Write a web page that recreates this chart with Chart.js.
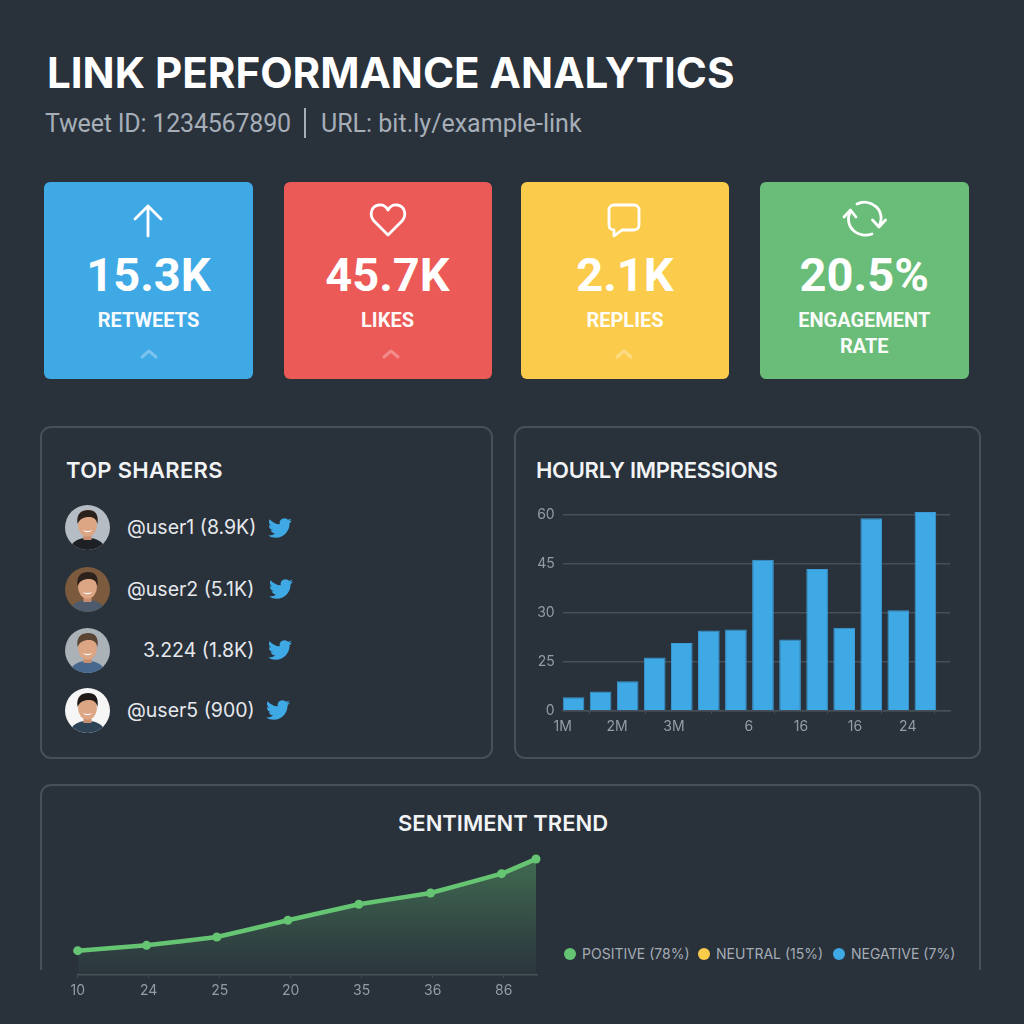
<!DOCTYPE html>
<html><head><meta charset="utf-8">
<script src="https://cdn.jsdelivr.net/npm/chart.js@4/dist/chart.umd.min.js"></script>
<style>
html,body{margin:0;padding:0;background:#29313b;width:1024px;height:1024px;overflow:hidden;font-family:Inter,Roboto,sans-serif;}
.a{position:absolute;white-space:nowrap;}
#title{left:47px;top:46px;font-size:42.100px;font-weight:700;color:#fff;line-height:54px;}
.sub{top:107px;font-family:Roboto,sans-serif;font-size:25px;color:#a6aeb8;line-height:34px;}
#sep{left:304px;top:108px;width:1.5px;height:30px;background:#a6aeb8;}
.card{position:absolute;top:181.5px;height:197px;border-radius:6px;}
.card svg{position:absolute;overflow:visible;}
.val{position:absolute;left:0;right:0;top:66px;text-align:center;color:#fff;font-family:Roboto,sans-serif;font-size:47px;font-weight:700;line-height:54px;}
.lab{position:absolute;left:0;right:0;top:125px;text-align:center;color:#fff;font-family:Roboto,sans-serif;font-size:20px;font-weight:700;line-height:26px;opacity:.96;}
.panel{position:absolute;border:2px solid #465059;border-radius:11px;box-sizing:border-box;}
.head{position:absolute;color:#f1f3f5;font-size:22px;font-weight:600;line-height:28px;white-space:nowrap;}
.name{position:absolute;color:#e6e9ec;font-size:19.500px;line-height:24px;white-space:nowrap;}
canvas{position:absolute;}
.leg{position:absolute;top:945px;font-size:14px;line-height:18px;color:#a5acb5;white-space:nowrap;}
.dot{position:absolute;width:12px;height:12px;border-radius:50%;top:948px;}
</style></head><body>
<div class="a" id="title">LINK PERFORMANCE ANALYTICS</div>
<div class="a sub" style="left:45px;letter-spacing:-.2px">Tweet ID: 1234567890</div>
<div class="a" id="sep"></div>
<div class="a sub" style="left:321px">URL: bit.ly/example-link</div>

<div class="panel" style="left:40px;top:426px;width:453px;height:333px"></div>
<div class="panel" style="left:514px;top:426px;width:467px;height:333px"></div>
<div class="panel" style="left:40px;top:784px;width:941px;height:186px;border-bottom:none;border-bottom-left-radius:0;border-bottom-right-radius:0"></div>
<div class="head" style="left:66px;top:456px;letter-spacing:.3px">TOP SHARERS</div>
<div class="head" style="left:536px;top:456px;letter-spacing:-.3px">HOURLY IMPRESSIONS</div>
<div class="head" style="left:398px;top:809px">SENTIMENT TREND</div>
<div id="cards"></div><div id="sharers"></div><div id="legend"></div>
<canvas id="bars" style="left:530px;top:492px;width:430px;height:248px" width="430" height="248"></canvas>
<canvas id="trend" style="left:60px;top:845px;width:500px;height:155px" width="500" height="155"></canvas>
<script>
const cardValues=['15.3K','45.7K','2.1K','20.5%'];
const cardLabels=['RETWEETS','LIKES','REPLIES','ENGAGEMENT<br>RATE'];
const sharerNames=['@user1 (8.9K)','@user2 (5.1K)','3.224 (1.8K)','@user5 (900)'];
const barHours=[0,1,2,3,4,5,6,7,8,9,10,11,12,13];
const barValues=[4.1,5.9,9.05,16.3,20.75,24.6,24.9,46.3,21.8,43.4,25.4,59,30.8,60.9];
const barTickAt=[-0.4,1.61,3.71,6.48,8.4,10.4,12.35];
const barTickLabels=['1M','2M','3M','6','16','16','24'];
const yTickLabels=['0','25','30','45','60'];
const trendX=[0,0.97,1.96,2.96,3.96,4.97,5.97,6.455];
const trendValues=[16.2,19.8,25.4,36.7,47.5,55.1,68.1,78];
const trendTickLabels=['10','24','25','20','35','36','86'];
const legendNames=['POSITIVE (78%)','NEUTRAL (15%)','NEGATIVE (7%)'];

const cardLeft=[44,283.5,521,759.5],cardWidth=[209,208,208,209.5],cardColor=['#3fa9e5','#ec5a57','#fbcc4c','#6abd79'];
const ic='fill="none" stroke="#fff" stroke-width="2.8" stroke-linecap="round" stroke-linejoin="round"';
const icons=[
 `<svg style="left:88px;top:22px" width="32" height="34"><path ${ic} d="M16 32V2M3 15L16 2L29 15"/></svg>`,
 `<svg style="left:86px;top:21px" width="36" height="34"><path ${ic} d="M18 32L4 18C-1 12 1 3 9 2C13 1.5 16 3.5 18 7C20 3.5 23 1.500 27 2C35 3 37 12 32 18Z"/></svg>`,
 `<svg style="left:86px;top:21px" width="36" height="36"><path ${ic} d="M7 2H27C30 2 32 4 32 7V22C32 25 30 27 27 27H15L7 33V27C4 27 2 25 2 22V7C2 4 4 2 7 2Z"/></svg>`,
 `<svg style="left:82px;top:20px" width="46" height="36"><path ${ic} d="M8.500 9C5 16 6 24 12 29C17 33 24 34 30 32M37 24C41 17 39 8 33 4C28 0 21 -1 15 2"/><path ${ic} d="M2 15L8.500 8L14 15M30.500 18L37 25L43.500 18"/></svg>`];
const chev=[[96,172],[98,172],[94,172],null];
document.getElementById('cards').innerHTML=cardValues.map((v,i)=>`<div class="card" style="left:${cardLeft[i]}px;width:${cardWidth[i]}px;background:${cardColor[i]}">
${icons[i]}<div class="val">${v}</div><div class="lab">${cardLabels[i]}</div>
${chev[i]?`<svg style="left:${chev[i][0]}px;top:${chev[i][1]-5}px" width="18" height="10"><path d="M2 8L9 2L16 8" fill="none" stroke="#fff" stroke-opacity=".3" stroke-width="3" stroke-linecap="round" stroke-linejoin="round"/></svg>`:''}</div>`).join('');

const avatarBg=['#b6bcc4','#7b5a3e','#aab1b7','#f6f6f6'],shirt=['#1d2126','#4d5b6c','#47688c','#2f4356'],hair=['#2a211c','#2c221c','#5a4434','#1f1a18'];
const rowY=[527.5,589,650,710],nameX=[127,127,143,127],birdX=[267.500,268.500,267.500,266];
const bird='M23.953 4.57a10 10 0 01-2.825.775 4.958 4.958 0 002.163-2.723c-.951.555-2.005.959-3.127 1.184a4.92 4.92 0 00-8.384 4.482C7.69 8.095 4.067 6.13 1.64 3.162a4.822 4.822 0 00-.666 2.475c0 1.71.87 3.213 2.188 4.096a4.904 4.904 0 01-2.228-.616v.06a4.923 4.923 0 003.946 4.827 4.996 4.996 0 01-2.212.085 4.936 4.936 0 004.604 3.417 9.867 9.867 0 01-6.102 2.105c-.39 0-.779-.023-1.17-.067a13.995 13.995 0 007.557 2.209c9.053 0 13.998-7.496 13.998-13.985 0-.21 0-.42-.015-.63A9.935 9.935 0 0024 4.59z';
document.getElementById('sharers').innerHTML=sharerNames.map((n,i)=>`
<svg class="a" style="left:65px;top:${rowY[i]-22.500}px" width="45" height="45" viewBox="0 0 45 45"><defs><clipPath id="c${i}"><circle cx="22.500" cy="22.500" r="22.500"/></clipPath></defs>
<g clip-path="url(#c${i})"><rect width="45" height="45" fill="${avatarBg[i]}"/>
<path d="M5 45C6 36 14 33 22.500 33S39 36 40 45Z" fill="${shirt[i]}"/>
<rect x="18.500" y="25" width="8" height="10" fill="#c78f70"/>
<ellipse cx="22.500" cy="20" rx="9.500" ry="11.500" fill="#dca583"/>
<path d="M12.500 19C11 8 17 5 23 5C30 5 34 9 32.500 19C31 14 29 12 24 12C18 12 15 14 12.500 19Z" fill="${hair[i]}"/>
<path d="M17.500 25Q22.500 29.500 27.500 25Q22.500 27 17.500 25Z" fill="#fff"/></g></svg>
<div class="name" style="left:${nameX[i]}px;top:${rowY[i]-12.500}px">${n}</div>
<svg class="a" style="left:${birdX[i]}px;top:${rowY[i]-12}px" width="24" height="24" viewBox="0 0 24 24"><path d="${bird}" fill="#3fa9e5"/></svg>`).join('');

const legColor=['#66c573','#fbcc4c','#3fa9e5'],legX=[582,716,851],dotX=[564,698,833];
document.getElementById('legend').innerHTML=legendNames.map((n,i)=>`<div class="dot" style="left:${dotX[i]}px;background:${legColor[i]}"></div><div class="leg" style="left:${legX[i]}px">${n}</div>`).join('');

const tickFont={family:'Inter,Roboto,sans-serif',size:14};
const tickColor='#949ca5',gridColor='#474f59';
Chart.defaults.animation=false;
new Chart(document.getElementById('bars'),{type:'bar',
 data:{datasets:[{data:barHours.map((h,i)=>({x:h,y:barValues[i]})),backgroundColor:'#3fa9e5',borderColor:'#3a9bd6',borderWidth:1,barPercentage:0.8,categoryPercentage:1}]},
 options:{responsive:false,devicePixelRatio:1,layout:{padding:{top:7.4,right:10,left:0,bottom:0}},plugins:{legend:{display:false},tooltip:{enabled:false}},
  scales:{
   x:{type:'linear',min:-0.4,max:13.91,offset:false,
      afterBuildTicks:ax=>{ax.ticks=barTickAt.map(value=>({value}));},
      afterFit:ax=>{ax.height=29.3;},
      grid:{drawOnChartArea:false,drawTicks:true,tickLength:3,color:gridColor},border:{color:gridColor,width:1.5},
      ticks:{autoSkip:false,maxRotation:0,color:tickColor,font:tickFont,padding:5,callback:(v,i)=>barTickLabels[i]}},
   y:{min:0,max:62,
      afterFit:ax=>{ax.width=32.7;},
      grid:{color:gridColor,lineWidth:1.5,drawTicks:false},border:{display:false},
      ticks:{stepSize:15,includeBounds:false,color:tickColor,font:tickFont,padding:8,callback:(v,i)=>yTickLabels[i]}}}}});

new Chart(document.getElementById('trend'),{type:'line',
 data:{datasets:[{data:trendX.map((x,i)=>({x,y:trendValues[i]})),borderColor:'#66c573',borderWidth:4.5,pointRadius:4.5,pointBackgroundColor:'#66c573',pointBorderWidth:0,tension:0.05,clip:false,fill:'origin',
   backgroundColor:c=>{const a=c.chart.chartArea;if(!a)return 'transparent';const g=c.chart.ctx.createLinearGradient(0,a.top,0,a.bottom);g.addColorStop(0,'rgba(102,197,115,.4)');g.addColorStop(.6,'rgba(102,197,115,.17)');g.addColorStop(1,'rgba(102,197,115,.03)');return g;}}]},
 options:{responsive:false,devicePixelRatio:1,layout:{padding:{top:11,left:17.7,right:22.3,bottom:0}},plugins:{legend:{display:false},tooltip:{enabled:false}},
  scales:{
   x:{type:'linear',min:0,max:6.479,
      afterFit:ax=>{ax.height=25.3;},
      grid:{drawOnChartArea:false,drawTicks:true,tickLength:3,color:gridColor},border:{color:gridColor,width:1.5},
      ticks:{stepSize:1,includeBounds:false,autoSkip:false,maxRotation:0,color:tickColor,font:tickFont,padding:5,callback:(v,i)=>trendTickLabels[i]}},
   y:{display:false,min:0,max:80}}}});
</script></body></html>
